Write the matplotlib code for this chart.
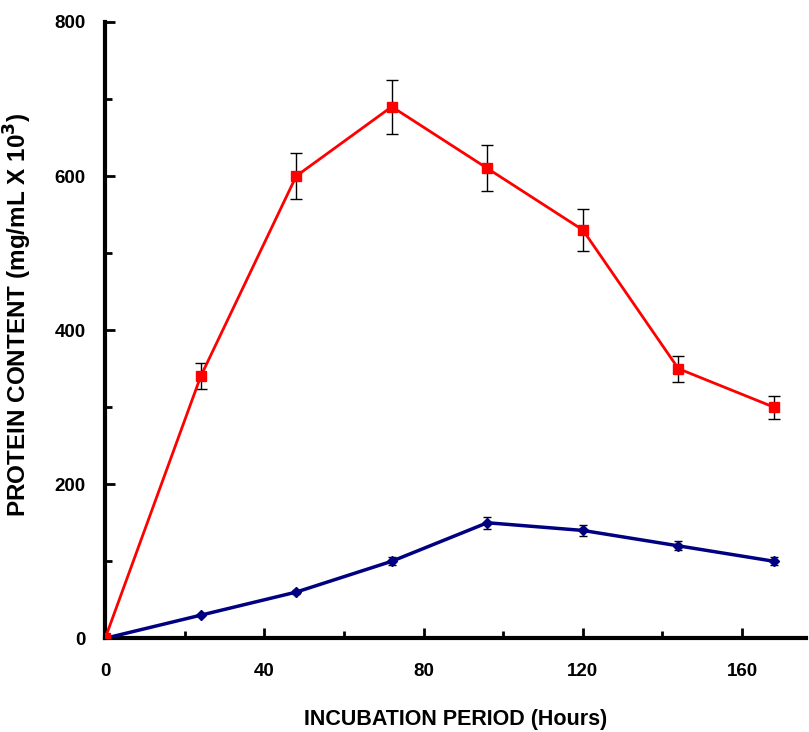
import matplotlib.pyplot as plt
from matplotlib.ticker import MultipleLocator

hours = [0, 24, 48, 72, 96, 120, 144, 168]
red_protein = [0, 340, 600, 690, 610, 530, 350, 300]
red_err = [0, 17, 30, 35, 30, 27, 17, 15]
blue_protein = [0, 30, 60, 100, 150, 140, 120, 100]
blue_err = [0, 1.5, 3, 5, 7.5, 7, 6, 5]

fam = ['Liberation Sans', 'DejaVu Sans']

fig = plt.figure(figsize=(8.09, 7.32), dpi=100)
ax = fig.add_axes([0.130, 0.128, 0.866, 0.842])

ax.errorbar(hours, blue_protein, yerr=blue_err, color='#000080', marker='D', markersize=5,
            linewidth=2.5, ecolor='black', elinewidth=1, capsize=3, zorder=3)
ax.errorbar(hours, red_protein, yerr=red_err, color='#ff0000', marker='s', markersize=7,
            linewidth=2, ecolor='black', elinewidth=1, capsize=4, zorder=4)

ax.set_xlim(0, 176)
ax.set_ylim(0, 800)
ax.xaxis.set_major_locator(MultipleLocator(40))
ax.xaxis.set_minor_locator(MultipleLocator(20))
ax.yaxis.set_major_locator(MultipleLocator(200))
ax.yaxis.set_minor_locator(MultipleLocator(100))

ax.spines['top'].set_visible(False)
ax.spines['right'].set_visible(False)
ax.spines['left'].set_linewidth(3)
ax.spines['bottom'].set_linewidth(3)
ax.spines['left'].set_bounds(0, 800)
ax.tick_params(which='both', direction='in', width=2)
ax.tick_params(which='major', length=7)
ax.tick_params(which='minor', length=5)
ax.tick_params(axis='x', pad=18)
ax.tick_params(axis='y', pad=14)

for lab in ax.get_xticklabels() + ax.get_yticklabels():
    lab.set_family(fam)
    lab.set_fontweight('bold')
    lab.set_fontsize(13.5)

ax.set_xlabel('INCUBATION PERIOD (Hours)', family=fam, fontweight='bold', fontsize=15.5, labelpad=21)
ax.set_ylabel('PROTEIN CONTENT (mg/mL X 10$^{\\mathbf{3}}$)', family=fam,
              fontweight='bold', fontsize=17.5)
ax.yaxis.set_label_coords(-0.101, 0.524)

fig.savefig('out.png', dpi=100)
